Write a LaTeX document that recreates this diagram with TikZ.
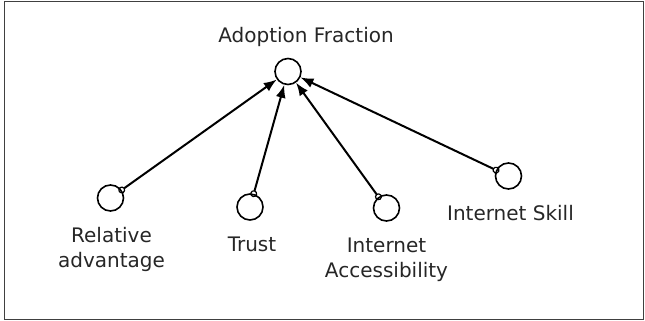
\documentclass[tikz,border=0pt]{standalone}
\usepackage{fontspec}
\setmainfont{DejaVu Sans}
\usetikzlibrary{arrows.meta}

\tikzset{
	var/.style={draw, circle, line width=1.6pt, minimum size=26pt, inner sep=0pt},
	lbl/.style={font=\fontsize{20}{25}\selectfont, align=center, anchor=base, inner sep=0pt, text=black!85},
	link/.style={line width=2pt, shorten <=-3.5pt,
		{Circle[open, length=7pt, width=7pt, line width=1.2pt]}-{Latex[length=13pt, width=10pt]}},
}

\begin{document}
\begin{tikzpicture}[x=1pt, y=-1pt]
		\useasboundingbox (0,0) rectangle (645,321);
		\draw [line width=1.3pt, black!75] (4.5,1.5) rectangle (643.5,319.5);

		% stock of adopters and its four drivers
		\path (288,71.5) node[var] (frac) {};
		\path (frac) ++(18,-28.5) node[lbl] (fracl) {Adoption Fraction};

		\path (110.5,198) node[var] (rel) {};
		\path (rel) ++(1,69) node[lbl] (rell) {Relative\\advantage};
		\path (250,207) node[var] (trust) {};
		\path (trust) ++(2,44.5) node[lbl] (trustl) {Trust};
		\path (386.5,208) node[var] (acc) {};
		\path (acc) ++(0,69) node[lbl] (accl) {Internet\\Accessibility};
		\path (508.5,176) node[var] (skill) {};
		\path (skill) ++(2,44) node[lbl] (skilll) {Internet Skill};

		\draw [link] (rel) -- (frac);
		\draw [link] (trust) -- (frac);
		\draw [link] (acc) -- (frac);
		\draw [link] (skill) -- (frac);
	\end{tikzpicture}
\end{document}
